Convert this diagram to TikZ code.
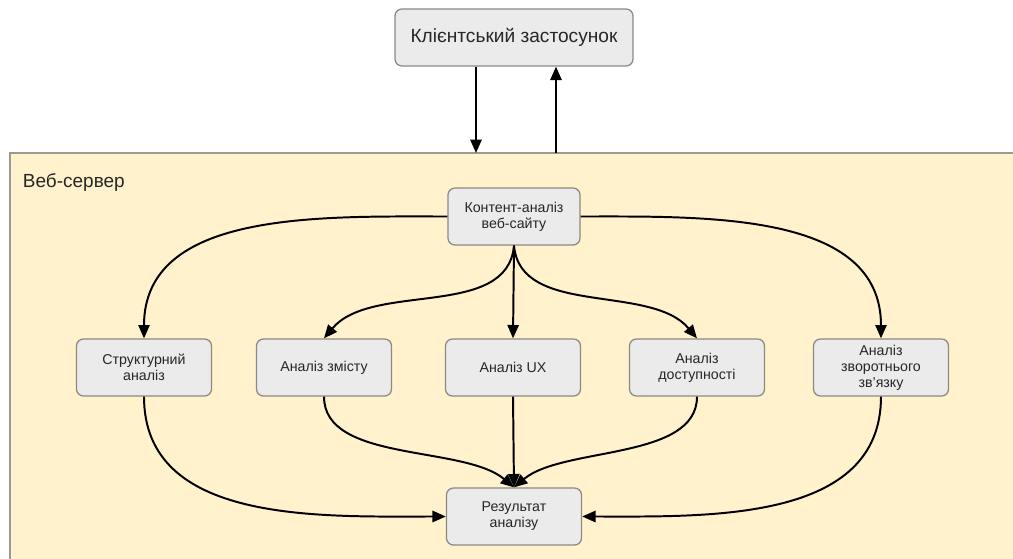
\documentclass[tikz,border=0pt]{standalone}
\usepackage{fontspec}
\setmainfont{Liberation Sans}
\usetikzlibrary{arrows.meta,positioning}
\definecolor{boxfill}{HTML}{EBEBEB}
\definecolor{boxline}{HTML}{8E8A82}
\definecolor{framefill}{HTML}{FFF2CC}
\definecolor{frameline}{HTML}{9E9A90}

\begin{document}
\begin{tikzpicture}[x=0.025cm,y=-0.025cm,
    box/.style={draw=boxline,fill=boxfill,line width=0.9pt,rounded corners=5pt,
      align=center,minimum width=3.375cm,minimum height=1.425cm,
      font=\fontsize{10.1}{11.4}\selectfont,text=black!85},
    arr/.style={-{Triangle[length=9.5pt,width=8pt]},line width=1.4pt}]
    \clip (0,0) rectangle (1013,559);

    % Web server frame
    \draw[draw=frameline,fill=framefill,line width=0.9pt] (10,153) rectangle (1040,590);
    \node[anchor=west,font=\fontsize{13.5}{15}\selectfont,text=black!85] (srvlabel) at (18,183) {Веб-сервер};

    % Client
    \node[box,minimum width=5.95cm,font=\fontsize{13.6}{16}\selectfont] (client) at (514,37.5) {Клієнтський застосунок};
    \coordinate (req) at (476,153);
    \coordinate (resp) at (556,153);
    \draw[arr] (client.south -| req) -- (req);
    \draw[arr] (resp) -- (client.south -| resp);

    % Nodes
    \node[box,minimum width=3.3cm] (content) at (514,216.5) {Контент-аналіз\\веб-сайту};
    \node[box] (struct) at (144,367.5) {Структурний\\аналіз};
    \node[box] (zmist) at (324,367.5) {Аналіз змісту};
    \node[box] (ux) at (513,367.5) {Аналіз UX};
    \node[box] (dost) at (697,367.5) {Аналіз\\доступності};
    \node[box] (zvor) at (881,367.5) {Аналіз\\зворотнього\\зв'язку};
    \node[box] (result) at (514,516.5) {Результат\\аналізу};

    % Fan out
    \draw[arr] (content.west) to[out=180,in=90] (struct.north);
    \draw[arr] (content.south) to[out=-95,in=50,looseness=0.9] (zmist.north);
    \draw[arr] (content.south) -- (ux.north);
    \draw[arr] (content.south) to[out=-85,in=130,looseness=0.9] (dost.north);
    \draw[arr] (content.east) to[out=0,in=90] (zvor.north);

    % Fan in
    \draw[arr] (struct.south) to[out=-90,in=180] (result.west);
    \draw[arr] (zmist.south) to[out=-90,in=140,looseness=0.8] (result.north);
    \draw[arr] (ux.south) -- (result.north);
    \draw[arr] (dost.south) to[out=-90,in=40,looseness=0.8] (result.north);
    \draw[arr] (zvor.south) to[out=-90,in=0] (result.east);

\end{tikzpicture}
\end{document}
